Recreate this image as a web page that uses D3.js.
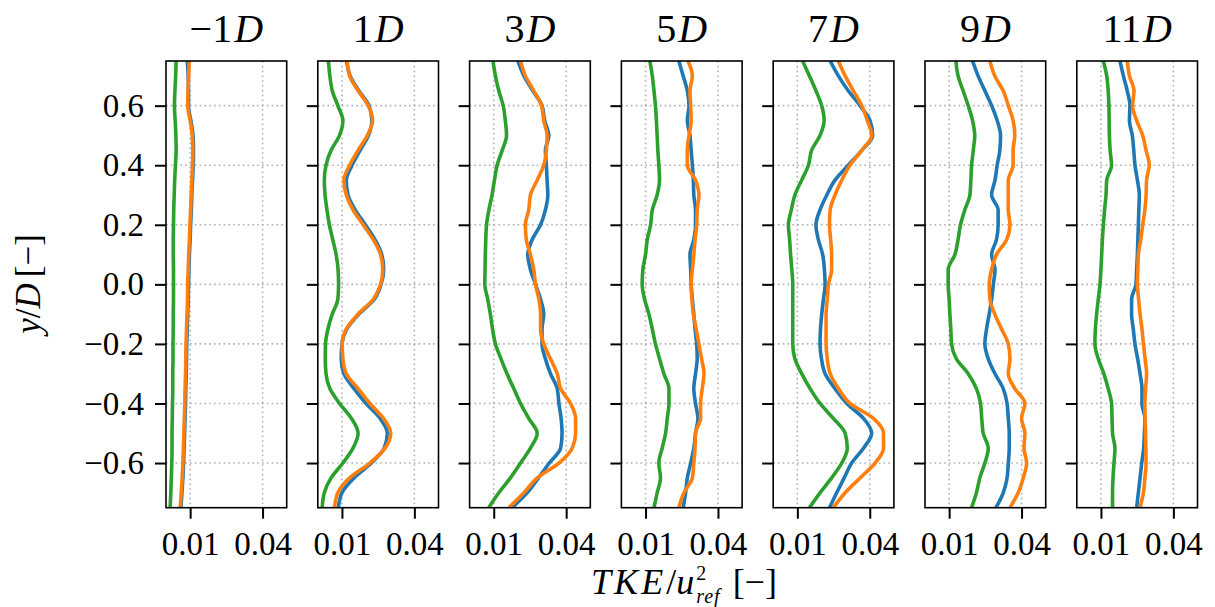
<!DOCTYPE html>
<html><head><meta charset="utf-8">
<script src="https://cdn.jsdelivr.net/npm/d3@7/dist/d3.min.js"></script>
<style>
html,body{margin:0;padding:0;background:#fff;}
svg{display:block;}
text{font-family:"Liberation Serif","Times New Roman",serif;fill:#000;}
</style></head>
<body>
<svg id="chart" width="1215" height="607"></svg>
<script>
// ---------------- data ----------------
const panelTitles = ["−1", "1", "3", "5", "7", "9", "11"];
const xTicks = [0.01, 0.04];
const yTicks = [-0.6, -0.4, -0.2, 0.0, 0.2, 0.4, 0.6];
const yPos = [0.75,0.70,0.65,0.60,0.55,0.50,0.45,0.40,0.35,0.30,0.25,0.20,0.15,0.10,0.05,0.00,
  -0.05,-0.10,-0.15,-0.20,-0.25,-0.30,-0.35,-0.40,-0.45,-0.50,-0.55,-0.60,-0.65,-0.70,-0.75];

// -1D
const blueM1 = [0.0088,0.0092,0.0093,0.0093,0.0103,0.0112,0.0114,0.0113,0.0110,0.0107,0.0105,0.0102,0.0100,0.0097,0.0095,0.0093,0.0092,0.0090,0.0088,0.0086,0.0085,0.0084,0.0082,0.0081,0.0079,0.0077,0.0075,0.0073,0.0070,0.0066,0.0062];
const orangeM1 = [0.0096,0.0094,0.0091,0.0090,0.0100,0.0109,0.0111,0.0110,0.0107,0.0104,0.0102,0.0099,0.0097,0.0094,0.0092,0.0090,0.0089,0.0087,0.0085,0.0083,0.0082,0.0081,0.0079,0.0078,0.0076,0.0074,0.0072,0.0070,0.0067,0.0063,0.0059];
const greenM1 = [0.0042,0.0040,0.0037,0.0035,0.0038,0.0041,0.0042,0.0039,0.0036,0.0034,0.0032,0.0031,0.0030,0.0030,0.0031,0.0031,0.0031,0.0030,0.0030,0.0029,0.0029,0.0028,0.0028,0.0027,0.0026,0.0025,0.0025,0.0024,0.0022,0.0020,0.0017];
// 1D
const blueP1 = [0.0119,0.0134,0.0170,0.0212,0.0224,0.0210,0.0175,0.0142,0.0118,0.0125,0.0155,0.0197,0.0237,0.0265,0.0273,0.0262,0.0234,0.0170,0.0120,0.0100,0.0097,0.0108,0.0150,0.0200,0.0258,0.0288,0.0275,0.0222,0.0150,0.0100,0.0085];
const orangeP1 = [0.0122,0.0132,0.0167,0.0209,0.0227,0.0205,0.0167,0.0132,0.0108,0.0118,0.0146,0.0188,0.0230,0.0260,0.0269,0.0260,0.0230,0.0167,0.0118,0.0101,0.0104,0.0118,0.0167,0.0216,0.0272,0.0302,0.0279,0.0216,0.0132,0.0083,0.0069];
const greenP1 = [0.0044,0.0050,0.0060,0.0083,0.0104,0.0090,0.0055,0.0034,0.0027,0.0030,0.0038,0.0048,0.0062,0.0076,0.0084,0.0086,0.0083,0.0060,0.0042,0.0032,0.0031,0.0034,0.0050,0.0090,0.0139,0.0167,0.0146,0.0104,0.0055,0.0027,0.0018];
// 3D
const blueP3 = [0.0200,0.0225,0.0262,0.0300,0.0311,0.0328,0.0314,0.0318,0.0321,0.0324,0.0314,0.0294,0.0259,0.0241,0.0252,0.0273,0.0294,0.0307,0.0300,0.0300,0.0314,0.0335,0.0363,0.0370,0.0379,0.0383,0.0377,0.0330,0.0285,0.0238,0.0176];
const orangeP3 = [0.0211,0.0231,0.0266,0.0298,0.0307,0.0321,0.0318,0.0307,0.0280,0.0252,0.0245,0.0231,0.0235,0.0252,0.0266,0.0273,0.0287,0.0294,0.0294,0.0307,0.0335,0.0363,0.0377,0.0418,0.0439,0.0439,0.0425,0.0370,0.0280,0.0225,0.0162];
const greenP3 = [0.0097,0.0107,0.0121,0.0139,0.0148,0.0153,0.0135,0.0114,0.0103,0.0093,0.0080,0.0070,0.0067,0.0065,0.0064,0.0063,0.0075,0.0086,0.0095,0.0107,0.0130,0.0155,0.0183,0.0211,0.0245,0.0280,0.0252,0.0211,0.0169,0.0121,0.0079];
// 5D
const blueP5 = [0.0238,0.0256,0.0273,0.0280,0.0273,0.0284,0.0289,0.0294,0.0298,0.0300,0.0307,0.0307,0.0300,0.0284,0.0287,0.0289,0.0294,0.0300,0.0305,0.0312,0.0314,0.0307,0.0300,0.0307,0.0317,0.0307,0.0300,0.0287,0.0273,0.0266,0.0256];
const orangeP5 = [0.0276,0.0294,0.0284,0.0287,0.0289,0.0280,0.0273,0.0273,0.0307,0.0321,0.0314,0.0312,0.0305,0.0300,0.0294,0.0289,0.0292,0.0298,0.0310,0.0321,0.0332,0.0342,0.0335,0.0328,0.0328,0.0307,0.0305,0.0300,0.0294,0.0259,0.0238];
const greenP5 = [0.0118,0.0128,0.0135,0.0141,0.0145,0.0148,0.0151,0.0155,0.0158,0.0148,0.0128,0.0121,0.0107,0.0100,0.0089,0.0086,0.0096,0.0114,0.0128,0.0141,0.0158,0.0176,0.0197,0.0197,0.0190,0.0183,0.0169,0.0155,0.0162,0.0148,0.0135];
// 7D
const blueP7 = [0.0236,0.0270,0.0311,0.0360,0.0401,0.0412,0.0367,0.0311,0.0256,0.0222,0.0194,0.0177,0.0187,0.0205,0.0212,0.0215,0.0208,0.0201,0.0196,0.0194,0.0200,0.0215,0.0256,0.0305,0.0374,0.0408,0.0374,0.0325,0.0294,0.0263,0.0233];
const orangeP7 = [0.0270,0.0298,0.0332,0.0367,0.0390,0.0408,0.0367,0.0318,0.0284,0.0256,0.0236,0.0233,0.0238,0.0242,0.0242,0.0229,0.0224,0.0219,0.0219,0.0219,0.0224,0.0236,0.0270,0.0318,0.0415,0.0457,0.0457,0.0422,0.0360,0.0298,0.0249];
const greenP7 = [0.0122,0.0150,0.0177,0.0201,0.0211,0.0194,0.0159,0.0146,0.0118,0.0090,0.0075,0.0063,0.0068,0.0072,0.0077,0.0081,0.0081,0.0081,0.0081,0.0081,0.0090,0.0118,0.0153,0.0194,0.0249,0.0298,0.0307,0.0284,0.0242,0.0194,0.0150];
// 9D
const blueP9 = [0.0197,0.0220,0.0248,0.0276,0.0299,0.0313,0.0310,0.0299,0.0290,0.0276,0.0303,0.0303,0.0296,0.0276,0.0290,0.0283,0.0276,0.0266,0.0255,0.0248,0.0262,0.0290,0.0324,0.0340,0.0345,0.0349,0.0349,0.0345,0.0340,0.0324,0.0294];
const orangeP9 = [0.0269,0.0289,0.0324,0.0345,0.0365,0.0372,0.0365,0.0365,0.0345,0.0345,0.0345,0.0352,0.0338,0.0296,0.0276,0.0266,0.0269,0.0289,0.0317,0.0345,0.0352,0.0345,0.0372,0.0414,0.0400,0.0414,0.0410,0.0421,0.0407,0.0386,0.0352];
const greenP9 = [0.0128,0.0137,0.0158,0.0179,0.0197,0.0206,0.0200,0.0193,0.0190,0.0186,0.0165,0.0147,0.0137,0.0124,0.0096,0.0096,0.0100,0.0103,0.0107,0.0110,0.0130,0.0179,0.0213,0.0230,0.0235,0.0241,0.0262,0.0248,0.0227,0.0213,0.0193];
// 11D
const blueP11 = [0.0179,0.0193,0.0209,0.0220,0.0218,0.0230,0.0236,0.0241,0.0251,0.0259,0.0257,0.0255,0.0253,0.0251,0.0248,0.0245,0.0227,0.0227,0.0234,0.0241,0.0252,0.0262,0.0270,0.0270,0.0282,0.0280,0.0277,0.0269,0.0262,0.0255,0.0248];
const orangeP11 = [0.0209,0.0218,0.0237,0.0231,0.0248,0.0273,0.0287,0.0300,0.0289,0.0287,0.0282,0.0273,0.0265,0.0255,0.0253,0.0251,0.0256,0.0262,0.0270,0.0276,0.0283,0.0289,0.0285,0.0282,0.0283,0.0285,0.0286,0.0287,0.0282,0.0276,0.0262];
const greenP11 = [0.0110,0.0124,0.0130,0.0133,0.0134,0.0135,0.0138,0.0144,0.0124,0.0121,0.0115,0.0110,0.0106,0.0103,0.0100,0.0096,0.0089,0.0082,0.0077,0.0075,0.0089,0.0112,0.0130,0.0144,0.0146,0.0148,0.0158,0.0154,0.0150,0.0148,0.0148];

const seriesColors = ["#1f77b4", "#ff7f0e", "#2ca02c"];
const panelSeries = [
  [blueM1, orangeM1, greenM1],
  [blueP1, orangeP1, greenP1],
  [blueP3, orangeP3, greenP3],
  [blueP5, orangeP5, greenP5],
  [blueP7, orangeP7, greenP7],
  [blueP9, orangeP9, greenP9],
  [blueP11, orangeP11, greenP11]
];

// ---------------- layout ----------------
const svg = d3.select("#chart");
const left0 = 166, step = 151.8, pw = 120.7, plotTop = 61, plotBottom = 507.7;
const fmtX = d3.format(".2f"), fmtY = d3.format(".1f");

const y = d3.scaleLinear().domain([-0.75, 0.75]).range([plotBottom, plotTop]);

panelSeries.forEach((series, i) => {
  const x0 = left0 + i * step;
  const x = d3.scaleLinear().domain([0, 0.05]).range([x0, x0 + pw]);
  const g = svg.append("g");

  const cid = "clip" + i;
  svg.append("clipPath").attr("id", cid).append("rect")
    .attr("x", x0).attr("y", plotTop).attr("width", pw).attr("height", plotBottom - plotTop);

  // grid
  const grid = g.append("g").attr("stroke", "#b0b0b0").attr("stroke-width", 1.6)
    .attr("stroke-dasharray", "1.6,3.2");
  grid.selectAll("line.gx").data(xTicks).enter().append("line")
    .attr("x1", d => x(d)).attr("x2", d => x(d)).attr("y1", plotTop).attr("y2", plotBottom);
  grid.selectAll("line.gy").data(yTicks).enter().append("line")
    .attr("x1", x0).attr("x2", x0 + pw).attr("y1", d => y(d)).attr("y2", d => y(d));

  // lines
  const line = d3.line().x(d => x(d[0])).y(d => y(d[1])).curve(d3.curveMonotoneY);
  const lg = g.append("g").attr("clip-path", `url(#${cid})`);
  series.forEach((vals, k) => {
    lg.append("path").datum(vals.map((v, j) => [v, yPos[j]]))
      .attr("d", line).attr("fill", "none")
      .attr("stroke", seriesColors[k]).attr("stroke-width", 3.6)
      .attr("stroke-linejoin", "round").attr("stroke-linecap", "butt");
  });

  // axes
  const ax = d3.axisBottom(x).tickValues(xTicks).tickFormat(fmtX).tickSize(11).tickPadding(0);
  const axG = g.append("g").attr("transform", `translate(0,${plotBottom})`).call(ax);
  axG.select(".domain").remove();
  axG.selectAll(".tick line").attr("stroke", "#000").attr("stroke-width", 2);
  axG.selectAll(".tick text").attr("y", 555 - plotBottom).attr("dy", null)
    .style("font-family", '"Liberation Serif", serif').style("font-size", "33px");

  const ay = d3.axisLeft(y).tickValues(yTicks).tickFormat(fmtY).tickSize(11).tickPadding(11);
  const ayG = g.append("g").attr("transform", `translate(${x0},0)`).call(ay);
  ayG.select(".domain").remove();
  ayG.selectAll(".tick line").attr("stroke", "#000").attr("stroke-width", 2);
  ayG.selectAll(".tick text")
    .style("font-family", '"Liberation Serif", serif').style("font-size", "33px");
  if (i > 0) ayG.selectAll(".tick text").remove();

  // frame
  g.append("rect").attr("x", x0).attr("y", plotTop).attr("width", pw).attr("height", plotBottom - plotTop)
    .attr("fill", "none").attr("stroke", "#000").attr("stroke-width", 1.6);

  // title
  const t = g.append("text").attr("x", x0 + pw / 2).attr("y", 41.7)
    .attr("text-anchor", "middle").style("font-size", "40px");
  t.append("tspan").text(panelTitles[i]);
  t.append("tspan").attr("font-style", "italic").attr("dx", 2).text("D");
});

// y label
const yl = svg.append("text").attr("transform", "translate(40,284) rotate(-90)")
  .attr("text-anchor", "middle").style("font-size", "35px");
yl.append("tspan").attr("font-style", "italic").text("y");
yl.append("tspan").text("/");
yl.append("tspan").attr("font-style", "italic").text("D");
yl.append("tspan").attr("dx", 6).text("[−]");

// x label (single text element with tspans)
const xl = svg.append("text").attr("x", 0).attr("y", 0).style("font-size", "36px");
xl.append("tspan").attr("font-style", "italic").attr("letter-spacing", "3px").text("TKE");
xl.append("tspan").text("/");
xl.append("tspan").attr("font-style", "italic").text("u");
xl.append("tspan").attr("dx", 2).attr("dy", -14).style("font-size", "20px").text("2");
xl.append("tspan").attr("dx", -10).attr("dy", 23).style("font-size", "20px")
  .attr("font-style", "italic").attr("letter-spacing", "1px").text("ref");
xl.append("tspan").attr("dx", 12).attr("dy", -9).text("[−]");
const bb = xl.node().getBBox();
xl.attr("transform", `translate(${684 - bb.width / 2 - bb.x},594)`);
</script>
</body></html>
